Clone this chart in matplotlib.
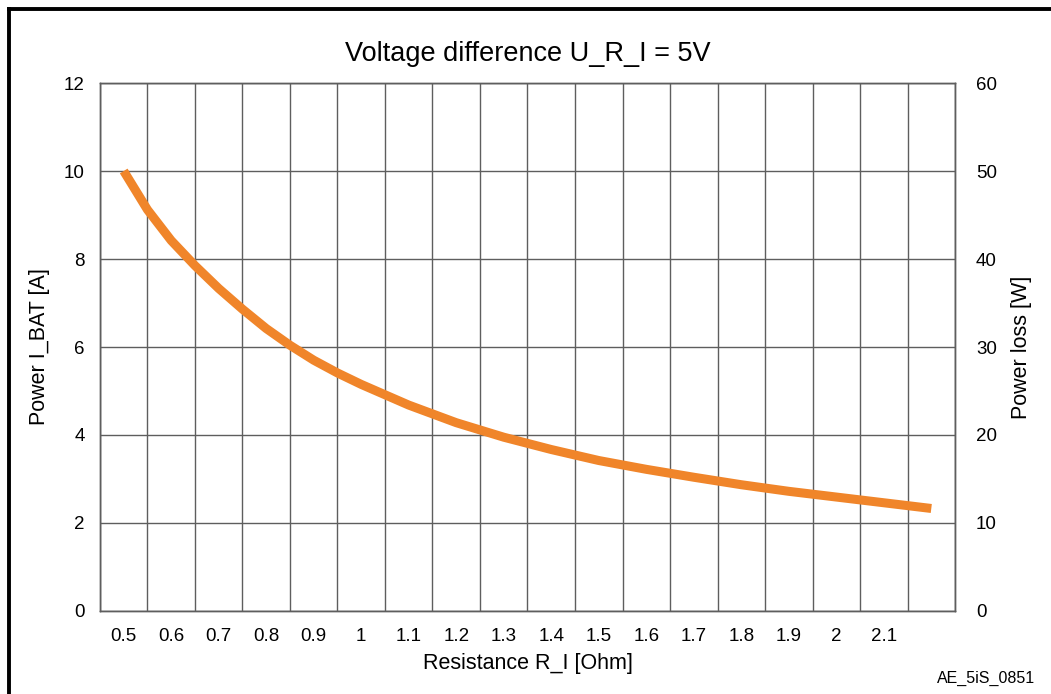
import matplotlib
matplotlib.use('Agg')
from matplotlib import pyplot as plt
from matplotlib.lines import Line2D

# values
resistance = [0.5, 0.55, 0.6, 0.65, 0.7, 0.75, 0.8, 0.85, 0.9, 0.95, 1.0,
              1.1, 1.2, 1.3, 1.4, 1.5, 1.6, 1.7, 1.8, 1.9, 2.0, 2.1, 2.2]
current = [10.0, 9.12, 8.42, 7.85, 7.33, 6.86, 6.42, 6.04, 5.7, 5.41, 5.15,
           4.68, 4.28, 3.95, 3.67, 3.42, 3.22, 3.04, 2.87, 2.72, 2.59, 2.46, 2.33]

x_labels = ['0.5', '0.6', '0.7', '0.8', '0.9', '1', '1.1', '1.2', '1.3', '1.4',
            '1.5', '1.6', '1.7', '1.8', '1.9', '2', '2.1']
x_ticks = [0.5 + 0.1 * i for i in range(len(x_labels))]
x_grid = [0.45 + 0.1 * i for i in range(19)]
left_ticks = [0, 2, 4, 6, 8, 10, 12]
right_ticks = [0, 10, 20, 30, 40, 50, 60]

plt.rcParams['font.family'] = ['Liberation Sans', 'DejaVu Sans']
grid_col = '#5e5e5e'

fig = plt.figure(figsize=(10.51, 6.94), dpi=100)
ax = fig.add_axes([0.0951, 0.1196, 0.8136, 0.7608])

ax.set_xlim(0.45, 2.25)
ax.set_ylim(0, 12)
for gx in x_grid:
    ax.axvline(gx, color=grid_col, lw=1.0, zorder=1)
for gy in left_ticks:
    ax.axhline(gy, color=grid_col, lw=1.0, zorder=1)

ax.plot(resistance, current, color='#F0852A', lw=6.5, solid_capstyle='butt',
        solid_joinstyle='round', zorder=3)

ax.set_xticks(x_ticks)
ax.set_xticklabels(x_labels)
ax.set_yticks(left_ticks)
ax.tick_params(axis='both', length=0, labelsize=13.5)
ax.tick_params(axis='x', pad=12)
ax.tick_params(axis='y', pad=11)
for s in ax.spines.values():
    s.set_color(grid_col)
    s.set_linewidth(1.0)

ax.set_xlabel('Resistance R_I [Ohm]', fontsize=15.5, labelpad=6)
ax.set_ylabel('Power I_BAT [A]', fontsize=15.5, labelpad=10)
ax.set_title('Voltage difference U_R_I = 5V', fontsize=19.5, pad=16)

ax2 = ax.twinx()
ax2.set_ylim(0, 60)
ax2.set_yticks(right_ticks)
ax2.tick_params(axis='y', length=0, labelsize=13.5, pad=15)
for s in ax2.spines.values():
    s.set_color(grid_col)
    s.set_linewidth(1.0)
ax2.set_ylabel('Power loss [W]', fontsize=15.5, labelpad=10)

fig.text(0.985, 0.023, 'AE_5iS_0851', ha='right', va='center', fontsize=11.5)

# frame on left and top edges of the figure
fig.add_artist(Line2D([0.0086, 0.0086], [0, 0.987], transform=fig.transFigure,
                      color='black', lw=2.8))
fig.add_artist(Line2D([0.0086, 1.0], [0.987, 0.987], transform=fig.transFigure,
                      color='black', lw=2.8))

fig.savefig('out.png', dpi=100, facecolor='white')
